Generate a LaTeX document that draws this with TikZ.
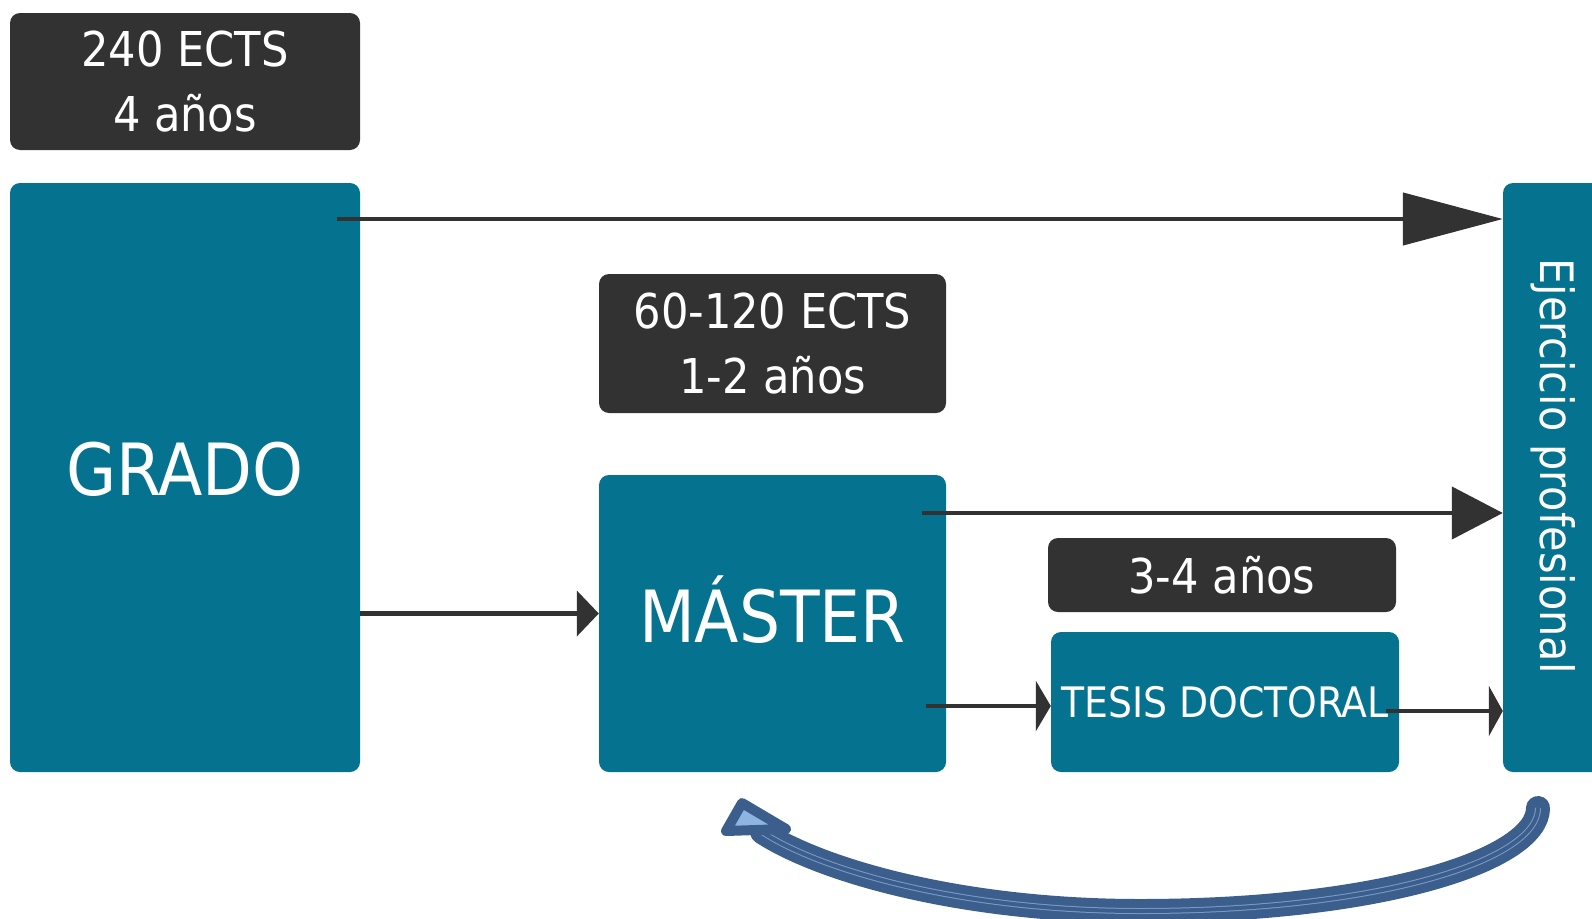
\documentclass[tikz,border=0pt]{standalone}
\usepackage{fontspec}
\setmainfont{DejaVu Sans Condensed}
\usetikzlibrary{arrows.meta}

\definecolor{teal}{HTML}{05728F}
\definecolor{darkbox}{HTML}{323232}
\definecolor{curvedark}{HTML}{3B5E8C}
\definecolor{curvelight}{HTML}{8DB4E3}
\definecolor{curvemid}{HTML}{7A9BC8}

\tikzset{
  tealbox/.style={fill=teal,rounded corners=10pt,text=white,inner sep=0pt},
  darkboxed/.style={fill=darkbox,rounded corners=10pt,text=white,inner sep=0pt,align=center},
  conn/.style={draw=darkbox,line width=4.5pt}
}

\begin{document}
\begin{tikzpicture}[x=1pt,y=-1pt]
\useasboundingbox (0,0) rectangle (1592,918);

% labels above the boxes
\node[darkboxed,minimum width=350pt,minimum height=137pt,font=\fontsize{48}{65}\selectfont] (ects1) at (185,81.5) {240 ECTS\\4 años};
\node[darkboxed,minimum width=347pt,minimum height=139pt,font=\fontsize{48}{65}\selectfont] (ects2) at (772.5,343.5) {60-120 ECTS\\1-2 años};
\node[darkboxed,minimum width=348pt,minimum height=74pt,font=\fontsize{48}{55}\selectfont] (anios) at (1222,575) {3-4 años};

% main boxes
\node[tealbox,minimum width=350pt,minimum height=589pt,font=\fontsize{72}{80}\selectfont] (grado) at (185,477.5) {\raisebox{18pt}{GRADO}};
\node[tealbox,minimum width=347pt,minimum height=297pt,font=\fontsize{72}{80}\selectfont] (master) at (772.5,623.5) {\raisebox{28pt}{MÁSTER}};
\node[tealbox,minimum width=348pt,minimum height=140pt,font=\fontsize{42}{46}\selectfont] (tesis) at (1225,702) {TESIS DOCTORAL};
\node[tealbox,minimum width=107pt,minimum height=589pt] (ejer) at (1556.5,477.5) {};
\node[rotate=-90,text=white,font=\fontsize{46}{50}\selectfont] (ejtext) at (1553,466) {Ejercicio profesional};

% connectors
\coordinate (g1) at (337,219);
\coordinate (m1) at (922,513);
\coordinate (m2) at (926,706);
\coordinate (t1) at (1386,711);
\draw[conn,-{Triangle[length=100pt,width=52pt]}] (g1) -- (ejer.west |- g1);
\draw[conn,-{Triangle[length=22pt,width=45pt]}] ([yshift=10pt]grado.east |- master.west) -- ([yshift=10pt]master.west);
\draw[conn,-{Triangle[length=51pt,width=52pt]}] (m1) -- (ejer.west |- m1);
\draw[conn,-{Triangle[length=15pt,width=50pt]}] (m2) -- (tesis.west |- m2);
\draw[conn,-{Triangle[length=14pt,width=50pt]}] (t1) -- (ejer.west |- t1);

% curved arrow back to the master
\coordinate (c1) at (1538,808);
\coordinate (c2) at (762,832);
\draw[curvedark,line width=24pt,line cap=round] (c1) .. controls (1538,860) and (1380,911) .. (1140,911) .. controls (960,911) and (820,870) .. (c2);
\draw[curvemid,line width=6pt] (c1) .. controls (1538,860) and (1380,911) .. (1140,911) .. controls (960,911) and (820,870) .. (c2);
\draw[curvedark,line width=4pt] (c1) .. controls (1538,860) and (1380,911) .. (1140,911) .. controls (960,911) and (820,870) .. (c2);
\draw[curvedark,line width=10pt,line join=round,fill=curvelight] (742,803) -- (726,831) -- (786,829) -- cycle;
\end{tikzpicture}
\end{document}
